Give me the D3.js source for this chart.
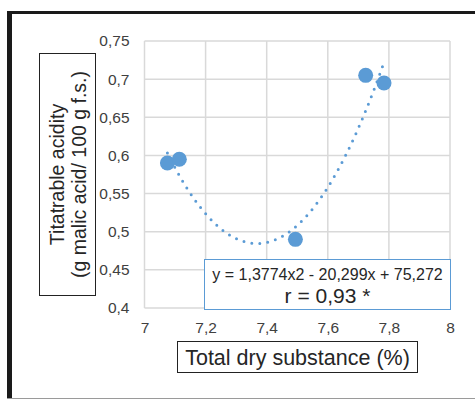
<!DOCTYPE html>
<html>
<head>
<meta charset="utf-8">
<script src="https://cdn.jsdelivr.net/npm/d3@7"></script>
<style>
  body { margin: 0; background: #fff; }
  svg { display: block; font-family: "Liberation Sans", Arial, sans-serif; }
</style>
</head>
<body>
<div id="chart"></div>
<script>
// measured points (total dry substance %, titratable acidity)
const dryMatter = [7.075, 7.114, 7.494, 7.724, 7.784];
const acidity = [0.590, 0.595, 0.490, 0.705, 0.695];

// polynomial trend line printed on the chart: y = a x^2 + b x + c
const trendCoef = [1.3774, -20.299, 75.272];
const trendRange = [7.075, 7.784];

const xTicks = [7, 7.2, 7.4, 7.6, 7.8, 8];
const yTicks = [0.4, 0.45, 0.5, 0.55, 0.6, 0.65, 0.7, 0.75];

const eqText = "y = 1,3774x2 - 20,299x + 75,272";
const rText = "r = 0,93 *";

const width = 475;
const height = 400;
const margin = { top: 41, right: 25, bottom: 92, left: 144.5 };
const blue = "#5B9BD5";

const svg = d3.select("#chart")
    .append("svg")
    .attr("width", width)
    .attr("height", height);

// outer frame (partially cropped in the original)
svg.append("line").attr("x1", 7).attr("x2", width).attr("y1", 12.5).attr("y2", 12.5)
    .attr("stroke", "#1a1a1a").attr("stroke-width", 3);
svg.append("line").attr("x1", 9.5).attr("x2", 9.5).attr("y1", 11).attr("y2", 398)
    .attr("stroke", "#1a1a1a").attr("stroke-width", 5);
svg.append("line").attr("x1", 7).attr("x2", width).attr("y1", 398.5).attr("y2", 398.5)
    .attr("stroke", "#9a9a9a").attr("stroke-width", 1);

const x = d3.scaleLinear()
    .domain([7, 8])
    .range([margin.left, width - margin.right]);

const y = d3.scaleLinear()
    .domain([0.4, 0.75])
    .range([height - margin.bottom, margin.top]);

const fmt = d => String(+d.toFixed(2)).replace(".", ",");

// gridlines
svg.append("g")
    .selectAll("line")
    .data(xTicks)
    .enter().append("line")
    .attr("x1", d => x(d)).attr("x2", d => x(d))
    .attr("y1", y(0.75)).attr("y2", y(0.4))
    .attr("stroke", "#d9d9d9").attr("stroke-width", 1.5);

svg.append("g")
    .selectAll("line")
    .data(yTicks)
    .enter().append("line")
    .attr("x1", x(7)).attr("x2", x(8))
    .attr("y1", d => y(d)).attr("y2", d => y(d))
    .attr("stroke", "#d9d9d9").attr("stroke-width", 1.5);

// axes (labels only)
const xAxis = svg.append("g")
    .attr("transform", `translate(0, ${height - margin.bottom})`)
    .call(d3.axisBottom(x).tickValues(xTicks).tickFormat(fmt).tickSize(0).tickPadding(14));
const yAxis = svg.append("g")
    .attr("transform", `translate(${margin.left}, 0)`)
    .call(d3.axisLeft(y).tickValues(yTicks).tickFormat(fmt).tickSize(0).tickPadding(15));
[xAxis, yAxis].forEach(g => {
    g.select(".domain").remove();
    g.selectAll("text")
        .style("font-size", "15.5px")
        .style("fill", "#404040")
        .style("font-family", "Liberation Sans, Arial, sans-serif");
});

// trend line
const trendX = d3.range(trendRange[0], trendRange[1] + 0.0001, (trendRange[1] - trendRange[0]) / 100);
const trend = trendX.map(v => ({ x: v, y: trendCoef[0] * v * v + trendCoef[1] * v + trendCoef[2] }));
const line = d3.line()
    .x(d => x(d.x))
    .y(d => y(d.y));

svg.append("path")
    .datum(trend)
    .attr("fill", "none")
    .attr("stroke", blue)
    .attr("stroke-width", 3)
    .attr("stroke-linecap", "round")
    .attr("stroke-dasharray", "0 8")
    .attr("d", line);

// points
svg.append("g")
    .selectAll("circle")
    .data(dryMatter)
    .enter().append("circle")
    .attr("cx", d => x(d))
    .attr("cy", (d, i) => y(acidity[i]))
    .attr("r", 7.5)
    .attr("fill", blue);

// equation box
svg.append("rect")
    .attr("x", 204.5).attr("y", 259.5)
    .attr("width", 246).attr("height", 50)
    .attr("fill", "#fff")
    .attr("stroke", blue).attr("stroke-width", 1);
svg.append("text")
    .attr("x", 327.5).attr("y", 279.5)
    .attr("text-anchor", "middle")
    .style("font-size", "16px").style("fill", "#262626")
    .text(eqText);
svg.append("text")
    .attr("x", 327.5).attr("y", 302.5)
    .attr("text-anchor", "middle")
    .style("font-size", "21px").style("fill", "#262626")
    .text(rText);

// y axis title
svg.append("rect")
    .attr("x", 39.5).attr("y", 53.5)
    .attr("width", 56).attr("height", 242)
    .attr("fill", "none").attr("stroke", "#222").attr("stroke-width", 1);
const yTitle = svg.append("text")
    .attr("transform", "translate(63.5, 174.5) rotate(-90)")
    .attr("text-anchor", "middle")
    .style("font-size", "19.5px").style("fill", "#262626");
yTitle.append("tspan").attr("x", 0).attr("dy", 0).text("Titatrable acidity");
yTitle.append("tspan").attr("x", 0).attr("dy", 22.5).text("(g malic acid/ 100 g f.s.)");

// x axis title
svg.append("rect")
    .attr("x", 177.5).attr("y", 341.5)
    .attr("width", 240).attr("height", 31)
    .attr("fill", "none").attr("stroke", "#222").attr("stroke-width", 1);
svg.append("text")
    .attr("x", 297.5).attr("y", 364.5)
    .attr("text-anchor", "middle")
    .style("font-size", "21.5px").style("fill", "#262626")
    .text("Total dry substance (%)");
</script>
</body>
</html>
